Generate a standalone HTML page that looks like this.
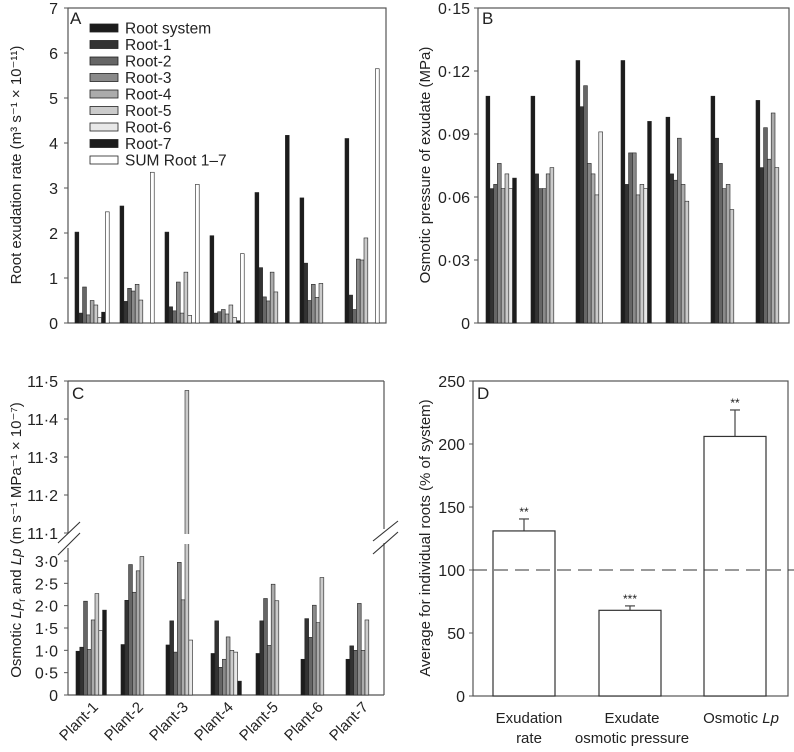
<!DOCTYPE html>
<html><head><meta charset="utf-8"><style>
html,body{margin:0;padding:0;background:#fff}
svg{display:block;font-family:"Liberation Sans",sans-serif}
</style></head><body>
<svg id="fig" width="794" height="752" viewBox="0 0 794 752" xmlns="http://www.w3.org/2000/svg"></svg>
<script>
const plants = ["Plant-1","Plant-2","Plant-3","Plant-4","Plant-5","Plant-6","Plant-7"];
const seriesNames = ["Root system","Root-1","Root-2","Root-3","Root-4","Root-5","Root-6","Root-7","SUM Root 1–7"];
const seriesFill = ["#1c1c1c","#333","#666","#8a8a8a","#ababab","#cbcbcb","#e8e8e8","#1c1c1c","#fff"];
// Panel A: exudation rate per plant, series order above
const exudation = [
 [2.02,0.22,0.8,0.18,0.5,0.4,0.12,0.24,2.47],
 [2.6,0.48,0.77,0.71,0.86,0.51,0,0,3.35],
 [2.02,0.36,0.27,0.91,0.22,1.13,0.17,0,3.08],
 [1.94,0.22,0.25,0.3,0.2,0.4,0.12,0.05,1.54],
 [2.9,1.23,0.58,0.49,1.13,0.69,0,0,4.17],
 [2.78,1.33,0.5,0.86,0.57,0.88,0,0,0],
 [4.1,0.62,0.3,1.42,1.4,1.89,0,0,5.65]];
const aTicks = [0,1,2,3,4,5,6,7];
// Panel B: osmotic pressure
const osmotic = [
 [0.108,0.064,0.066,0.076,0.064,0.071,0.064,0.069],
 [0.108,0.071,0.064,0.064,0.071,0.074,0,0],
 [0.125,0.103,0.113,0.076,0.071,0.061,0.091,0],
 [0.125,0.066,0.081,0.081,0.061,0.066,0.064,0.096],
 [0.098,0.071,0.068,0.088,0.066,0.058,0,0],
 [0.108,0.088,0.076,0.064,0.066,0.054,0,0],
 [0.106,0.074,0.093,0.078,0.100,0.074,0,0]];
const bTicks = ["0","0·03","0·06","0·09","0·12","0·15"];
const bTickVals = [0,0.03,0.06,0.09,0.12,0.15];
// Panel C: osmotic Lp
const lp = [
 [0.98,1.07,2.1,1.02,1.68,2.27,1.44,1.9],
 [1.13,2.12,2.92,2.3,2.78,3.1,0,0],
 [1.12,1.66,0.96,2.97,2.13,11.475,1.23,0],
 [0.93,1.66,0.62,0.8,1.3,1.0,0.96,0.31],
 [0.93,1.66,2.16,1.11,2.48,2.11,0,0],
 [0.8,1.71,1.29,2.01,1.62,2.63,0,0],
 [0.8,1.1,1.0,2.05,1.0,1.68,0,0]];
const cLowTicks = [0,0.5,1,1.5,2,2.5,3];
const cLowLabels = ["0","0·5","1·0","1·5","2·0","2·5","3·0"];
const cHighTicks = [11.1,11.2,11.3,11.4,11.5];
const cHighLabels = ["11·1","11·2","11·3","11·4","11·5"];
// Panel D
const dCats = ["Exudation rate","Exudate osmotic pressure","Osmotic Lp"];
const dVals = [131,68,206];
const dErr = [9.5,3.5,21];
const dStars = ["**","***","**"];
const dTicks = [0,50,100,150,200,250];

const NS="http://www.w3.org/2000/svg";
const svg=document.getElementById('fig');
function el(t,a,p){const e=document.createElementNS(NS,t);for(const k in a)e.setAttribute(k,a[k]);(p||svg).appendChild(e);return e;}
function txt(s,a,p){const e=el('text',a,p);e.textContent=s;return e;}
const AX="#555";
const BW=3.8;
const TF=16, TT=15;

// ---------- Panel A ----------
const yA=v=>323-(v/7)*315;
const gA=el('g',{});

el('rect',{x:68,y:8,width:318,height:315,fill:'none',stroke:AX,'stroke-width':1.2},gA);
aTicks.forEach(t=>{el('line',{x1:68,x2:64,y1:yA(t),y2:yA(t),stroke:AX},gA);
 const l=txt(String(t),{x:58,y:yA(t)+6,'font-size':TF,'text-anchor':'end',fill:'#222'},gA);
 });
exudation.forEach((row,p)=>{const x0=75+45*p;row.forEach((v,i)=>{if(v<=0)return;
 let f=seriesFill[i]; if(p===4&&i===8)f="#1c1c1c";
 const r=el('rect',{x:x0+i*BW,y:yA(v),width:BW,height:323-yA(v),fill:f,stroke:'#222','stroke-width':0.6},gA);
 });});
const ta=txt('A',{x:70,y:24,'font-size':17,fill:'#222'},gA);
seriesNames.forEach((n,i)=>{const y=28+i*16.5;
 const g=el('g',{},gA);
 el('rect',{x:90,y:y-4,width:28,height:8,fill:seriesFill[i],stroke:'#222','stroke-width':0.8},g);
 txt(n,{x:125,y:y+5.5,'font-size':15.5,fill:'#222'},g);});
const at=txt('',{transform:'translate(21,165) rotate(-90)','text-anchor':'middle','font-size':TT,fill:'#222'},gA);
at.textContent='Root exudation rate (m³ s⁻¹ × 10⁻¹¹)';

// ---------- Panel B ----------
const yB=v=>323-(v/0.15)*315;
const gB=el('g',{});
el('rect',{x:478,y:8,width:311,height:315,fill:'none',stroke:AX,'stroke-width':1.2},gB);
bTickVals.forEach((t,k)=>{el('line',{x1:478,x2:474,y1:yB(t),y2:yB(t),stroke:AX},gB);
 const l=txt(bTicks[k],{x:470,y:yB(t)+6,'font-size':TF,'text-anchor':'end',fill:'#222'},gB);
 });
osmotic.forEach((row,p)=>{const x0=486+45*p;row.forEach((v,i)=>{if(v<=0)return;
 const r=el('rect',{x:x0+i*BW,y:yB(v),width:BW,height:323-yB(v),fill:seriesFill[i],stroke:'#222','stroke-width':0.6},gB);
 });});
const tb=txt('B',{x:482,y:24,'font-size':17,fill:'#222'},gB);
const bt=txt('Osmotic pressure of exudate (MPa)',{transform:'translate(430,165) rotate(-90)','text-anchor':'middle','font-size':TT,fill:'#222'},gB);


// ---------- Panel C ----------
const yCl=v=>695-v*44.67;
const yCh=v=>533-(v-11.1)*380;
const yC=v=>v>3.2?yCh(v):yCl(v);
const gC=el('g',{});
el('line',{x1:68,x2:384,y1:381,y2:381,stroke:AX,'stroke-width':1.2},gC);
el('line',{x1:68,x2:384,y1:695,y2:695,stroke:AX,'stroke-width':1.2},gC);
el('line',{x1:68,x2:68,y1:381,y2:533,stroke:AX,'stroke-width':1.2},gC);
el('line',{x1:68,x2:68,y1:548,y2:695,stroke:AX,'stroke-width':1.2},gC);
el('line',{x1:384,x2:384,y1:381,y2:529,stroke:AX,'stroke-width':1.2},gC);
el('line',{x1:384,x2:384,y1:543,y2:695,stroke:AX,'stroke-width':1.2},gC);
el('line',{x1:58,y1:543,x2:80,y2:522,stroke:'#333','stroke-width':1.1},gC);
el('line',{x1:58,y1:555,x2:80,y2:533,stroke:'#333','stroke-width':1.1},gC);
el('line',{x1:373,y1:541,x2:398,y2:521,stroke:'#333','stroke-width':1.1},gC);
el('line',{x1:373,y1:554,x2:398,y2:532,stroke:'#333','stroke-width':1.1},gC);
cLowTicks.forEach((t,k)=>{el('line',{x1:68,x2:64,y1:yCl(t),y2:yCl(t),stroke:AX},gC);
 const l=txt(cLowLabels[k],{x:58,y:yCl(t)+6,'font-size':TF,'text-anchor':'end',fill:'#222'},gC);
 });
cHighTicks.forEach((t,k)=>{el('line',{x1:68,x2:64,y1:yCh(t),y2:yCh(t),stroke:AX},gC);
 const l=txt(cHighLabels[k],{x:58,y:yCh(t)+6,'font-size':TF,'text-anchor':'end',fill:'#222'},gC);
 });
lp.forEach((row,p)=>{const x0=76+45*p;row.forEach((v,i)=>{if(v<=0)return;
 const r=el('rect',{x:x0+i*BW,y:yC(v),width:BW,height:695-yC(v),fill:seriesFill[i],stroke:'#222','stroke-width':0.6},gC);
 
 if(v>3.2){el('rect',{x:x0+i*BW-1,y:534,width:BW+2,height:10,fill:'#fff'},gC);}});
 const l=txt(plants[p],{transform:`translate(${x0+23},708) rotate(-45)`,'text-anchor':'end','font-size':15,fill:'#222'},gC);
 });
const tc=txt('C',{x:72,y:399,'font-size':17,fill:'#222'},gC);
const ct=el('text',{transform:'translate(21,540) rotate(-90)','text-anchor':'middle','font-size':TT,fill:'#222'},gC);

ct.innerHTML='Osmotic <tspan font-style="italic">Lp</tspan><tspan font-size="10" dy="4">r</tspan><tspan dy="-4"> and </tspan><tspan font-style="italic">Lp</tspan>  (m s⁻¹ MPa⁻¹ × 10⁻⁷)';

// ---------- Panel D ----------
const yD=v=>696-(v/250)*315;
const gD=el('g',{});
el('rect',{x:473,y:381,width:315,height:315,fill:'none',stroke:AX,'stroke-width':1.2},gD);
dTicks.forEach(t=>{el('line',{x1:473,x2:469,y1:yD(t),y2:yD(t),stroke:AX},gD);
 const l=txt(String(t),{x:465,y:yD(t)+6,'font-size':TF,'text-anchor':'end',fill:'#222'},gD);
 });
const dX=[493,599,704];
dVals.forEach((v,i)=>{const x=dX[i],w=62,c=x+w/2;
 el('line',{x1:c,x2:c,y1:yD(v),y2:yD(v+dErr[i]),stroke:'#444','stroke-width':1.2},gD);
 el('line',{x1:c-5,x2:c+5,y1:yD(v+dErr[i]),y2:yD(v+dErr[i]),stroke:'#444','stroke-width':1.2},gD);
 const r=el('rect',{x:x,y:yD(v),width:w,height:696-yD(v),fill:'#fff',stroke:'#333','stroke-width':1.2},gD);
 
 const s=txt(dStars[i],{x:c,y:yD(v+dErr[i])-3,'font-size':12,'text-anchor':'middle',fill:'#222'},gD);
 });
const dl=el('line',{x1:473,x2:794,y1:yD(100),y2:yD(100),stroke:'#333','stroke-width':1.1,'stroke-dasharray':'14,7'},gD);

const xl1=txt('Exudation',{x:529,y:723,'font-size':15,'text-anchor':'middle',fill:'#222'},gD);
txt('rate',{x:529,y:743,'font-size':15,'text-anchor':'middle',fill:'#222'},gD);
const xl2=txt('Exudate',{x:632,y:723,'font-size':15,'text-anchor':'middle',fill:'#222'},gD);
txt('osmotic pressure',{x:632,y:743,'font-size':15,'text-anchor':'middle',fill:'#222'},gD);
const xl3=el('text',{x:741,y:723,'font-size':15,'text-anchor':'middle',fill:'#222'},gD);xl3.innerHTML='Osmotic <tspan font-style="italic">Lp</tspan>';

const td=txt('D',{x:477,y:399,'font-size':17,fill:'#222'},gD);
const dt=txt('Average for individual roots (% of system)',{transform:'translate(430,538) rotate(-90)','text-anchor':'middle','font-size':TT,fill:'#222'},gD);

</script>
</body></html>
